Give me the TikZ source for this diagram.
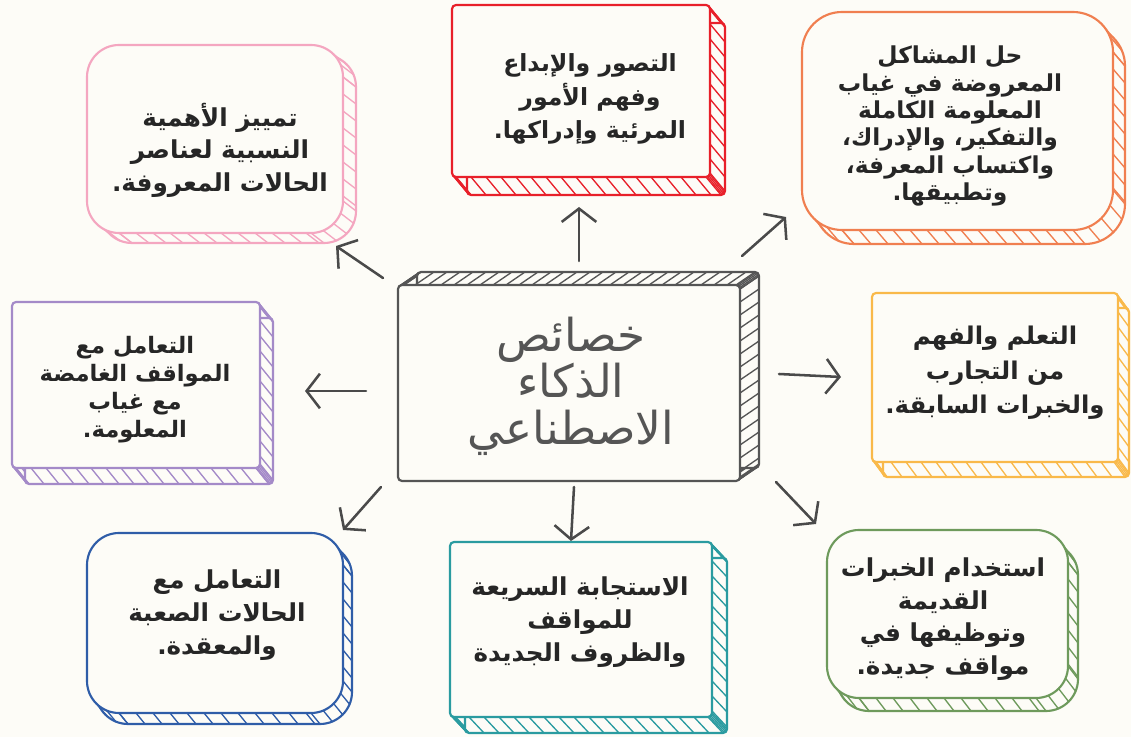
\documentclass[tikz,border=0pt]{standalone}
\usepackage{fontspec}
\usetikzlibrary{arrows.meta}
\TeXXeTstate=1
\newfontfamily\arabicfont[Script=Arabic]{DejaVu Sans}
\definecolor{bg}{HTML}{FDFCF7}
\definecolor{ink}{HTML}{262626}
\definecolor{midgray}{HTML}{555555}
\definecolor{arrowgray}{HTML}{4A4A4A}
\definecolor{cred}{HTML}{E8202A}
\definecolor{corange}{HTML}{F07F50}
\definecolor{cpink}{HTML}{F4A6C0}
\definecolor{cpurple}{HTML}{A48AC8}
\definecolor{cyellow}{HTML}{F9B94A}
\definecolor{cblue}{HTML}{2F5DA8}
\definecolor{cteal}{HTML}{2A9BA0}
\definecolor{cgreen}{HTML}{6E9A5C}
\tikzset{
  boxline/.style={line width=1.6pt, line join=round},
  hatchline/.style={line width=1pt, line cap=round},
  arr/.style={draw=arrowgray, line width=1.9pt, line cap=round,
    -{Straight Barb[length=10pt,width=26pt,line width=1.9pt]}},
  lbl/.style 2 args={font=\arabicfont\bfseries\fontsize{#1}{#2}\selectfont,
    text=ink, align=center, inner sep=0pt},
}
% #1 colour, #2 x1, #3 y1, #4 x2, #5 y2, #6 dx, #7 dy, #8 radius (px), #9 hatch step (px)
\newcommand\sketchbox[9]{%
  \pgfmathsetmacro\skr{#8*0.75}%
  \draw[boxline, draw=#1, fill=bg, rounded corners=\skr pt, shift={(#6,#7)}] (#2,#3) rectangle (#4,#5);
  \begin{scope}[hatchline, draw=#1]
    \pgfmathsetmacro\ska{#3+#8}\pgfmathsetmacro\skb{#3+#8+#9}\pgfmathsetmacro\skc{#5-#8}%
    \foreach \yy in {\ska,\skb,...,\skc} {\draw (#4,\yy) -- ++(#6,#7); \draw (#2,\yy) -- ++(#6,#7);}
    \pgfmathsetmacro\ska{#2+#8}\pgfmathsetmacro\skb{#2+#8+#9}\pgfmathsetmacro\skc{#4-#8}%
    \foreach \xx in {\ska,\skb,...,\skc} {\draw (\xx,#5) -- ++(#6,#7); \draw (\xx,#3) -- ++(#6,#7);}
    \foreach \t in {0,22.5,...,90} {\draw ({#4-#8+#8*cos(\t)},{#5-#8+#8*sin(\t)}) -- ++(#6,#7);}
    \foreach \t in {90,112.5,...,180} {\draw ({#2+#8+#8*cos(\t)},{#5-#8+#8*sin(\t)}) -- ++(#6,#7);}
    \foreach \t in {180,202.5,...,270} {\draw ({#2+#8+#8*cos(\t)},{#3+#8+#8*sin(\t)}) -- ++(#6,#7);}
    \foreach \t in {270,292.5,...,360} {\draw ({#4-#8+#8*cos(\t)},{#3+#8+#8*sin(\t)}) -- ++(#6,#7);}
  \end{scope}
  \draw[boxline, draw=#1, fill=bg, rounded corners=\skr pt] (#2,#3) rectangle (#4,#5);
}
\begin{document}
\begin{tikzpicture}[x=0.75pt, y=-0.75pt]
\useasboundingbox (0,0) rectangle (1131,737);
\fill[bg] (0,0) rectangle (1131,737);

% boxes
\sketchbox{midgray}{398}{285}{740}{481}{19}{-13}{4}{13}
\sketchbox{cred}{452}{5}{710}{177}{15}{18}{4}{15}
\sketchbox{corange}{802}{12}{1113}{230}{12}{14}{40}{17}
\sketchbox{cpink}{87}{45}{343}{233}{13}{10}{32}{17}
\sketchbox{cpurple}{12}{302}{260}{468}{13}{16}{4}{15}
\sketchbox{cyellow}{872}{293}{1118}{462}{11}{15}{4}{15}
\sketchbox{cblue}{87}{533}{343}{713}{9}{11}{32}{17}
\sketchbox{cteal}{450}{542}{712}{717}{15}{16}{4}{15}
\sketchbox{cgreen}{827}{530}{1068}{698}{10}{13}{32}{17}

% texts
\node[font=\arabicfont\fontsize{34}{35}\selectfont, text=midgray, align=center, inner sep=0pt]
  (center) at (571,386) {\beginR خصائص\endR\\\beginR الذكاء\endR\\\beginR الاصطناعي\endR};
\node[lbl={17.7}{25}] (red) at (590,99) {\beginR التصور والإبداع\endR\\\beginR وفهم الأمور\endR\\\beginR المرئية وإدراكها.\endR};
\node[lbl={17.5}{20.5}] (orange) at (950,126) {\beginR حل المشاكل\endR\\\beginR المعروضة في غياب\endR\\\beginR المعلومة الكاملة\endR\\\beginR والتفكير، والإدراك،\endR\\\beginR واكتساب المعرفة،\endR\\\beginR وتطبيقها.\endR};
\node[lbl={18.5}{24.4}] (pink) at (220,150) {\beginR تمييز الأهمية\endR\\\beginR النسبية لعناصر\endR\\\beginR الحالات المعروفة.\endR};
\node[lbl={17}{21}] (purple) at (135,390) {\beginR التعامل مع\endR\\\beginR المواقف الغامضة\endR\\\beginR مع غياب\endR\\\beginR المعلومة.\endR};
\node[lbl={18.3}{26}] (yellow) at (995,373) {\beginR التعلم والفهم\endR\\\beginR من التجارب\endR\\\beginR والخبرات السابقة.\endR};
\node[lbl={18.5}{24.75}] (blue) at (217,615) {\beginR التعامل مع\endR\\\beginR الحالات الصعبة\endR\\\beginR والمعقدة.\endR};
\node[lbl={18.5}{25}] (teal) at (580,622) {\beginR الاستجابة السريعة\endR\\\beginR للمواقف\endR\\\beginR والظروف الجديدة\endR};
\node[lbl={18.5}{24.5}] (green) at (943,619) {\beginR استخدام الخبرات\endR\\\beginR القديمة\endR\\\beginR وتوظيفها في\endR\\\beginR مواقف جديدة.\endR};

% arrows
\coordinate (aPs) at (383,278); \coordinate (aPe) at (336,246);
\coordinate (aRs) at (579,261); \coordinate (aRe) at (579,207);
\coordinate (aOs) at (742,256); \coordinate (aOe) at (786,217);
\coordinate (aUs) at (366,391); \coordinate (aUe) at (305,391);
\coordinate (aYs) at (779,374); \coordinate (aYe) at (841,377);
\coordinate (aBs) at (381,487); \coordinate (aBe) at (343,530);
\coordinate (aTs) at (574,487); \coordinate (aTe) at (571,541);
\coordinate (aGs) at (776,482); \coordinate (aGe) at (816,524);
\draw[arr] (aPs) -- (aPe);
\draw[arr] (aRs) -- (aRe);
\draw[arr] (aOs) -- (aOe);
\draw[arr] (aUs) -- (aUe);
\draw[arr] (aYs) -- (aYe);
\draw[arr] (aBs) -- (aBe);
\draw[arr] (aTs) -- (aTe);
\draw[arr] (aGs) -- (aGe);
\end{tikzpicture}
\end{document}
